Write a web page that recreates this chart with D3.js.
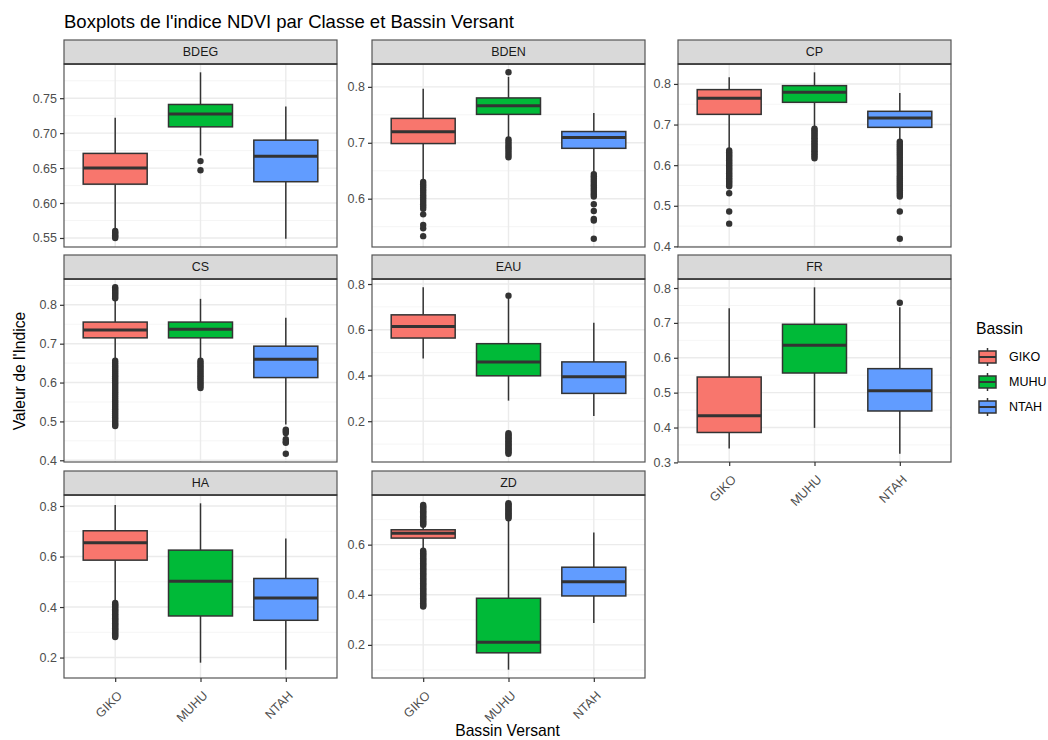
<!DOCTYPE html>
<html>
<head>
<meta charset="utf-8">
<script src="https://cdn.jsdelivr.net/npm/d3@7"></script>
<style>
  body { margin: 0; background: #fff; }
  svg { display: block; font-family: "Liberation Sans", Arial, sans-serif; }
</style>
</head>
<body>
<div id="chart"></div>
<script>
// categories
var classes = ["BDEG", "BDEN", "CP", "CS", "EAU", "FR", "HA", "ZD"];
var bassins = ["GIKO", "MUHU", "NTAH"];
var colors = ["#F8766D", "#00BA38", "#619CFF"];

// box stats per bassin: [whisker low, q1, median, q3, whisker high]
var statsBDEG = [[0.563, 0.627, 0.650, 0.671, 0.722], [0.668, 0.709, 0.7275, 0.741, 0.787], [0.549, 0.6305, 0.667, 0.690, 0.738]];
var statsBDEN = [[0.632, 0.6986, 0.7195, 0.7436, 0.7964], [0.708, 0.7508, 0.7664, 0.7802, 0.818], [0.647, 0.6901, 0.7093, 0.7201, 0.7532]];
var statsCP   = [[0.642, 0.7251, 0.7646, 0.786, 0.8163], [0.695, 0.7547, 0.7793, 0.7958, 0.8286], [0.663, 0.6931, 0.7163, 0.7326, 0.7778]];
var statsCS   = [[0.662, 0.715, 0.7352, 0.7556, 0.811], [0.662, 0.715, 0.737, 0.7556, 0.8153], [0.492, 0.6128, 0.6597, 0.6936, 0.7668]];
var statsEAU  = [[0.474, 0.5638, 0.6145, 0.6652, 0.7856], [0.290, 0.3986, 0.4594, 0.5391, 0.735], [0.223, 0.3217, 0.3942, 0.4594, 0.6304]];
var statsFR   = [[0.3396, 0.3858, 0.4338, 0.5448, 0.7422], [0.399, 0.5563, 0.6362, 0.696, 0.802], [0.325, 0.4474, 0.5052, 0.5688, 0.745]];
var statsHA   = [[0.420, 0.5857, 0.6545, 0.702, 0.804], [0.1797, 0.3647, 0.5024, 0.6254, 0.8107], [0.152, 0.3476, 0.4362, 0.5131, 0.6717]];
var statsZD   = [[0.582, 0.6262, 0.646, 0.6594, 0.6725], [0.101, 0.1683, 0.2103, 0.3861, 0.699], [0.287, 0.3953, 0.4519, 0.51, 0.6487]];

// outliers per bassin
var outBDEG = [[0.560, 0.558, 0.556, 0.554, 0.552, 0.550], [0.660, 0.647], []];
var outBDEN = [
  [0.630, 0.626, 0.622, 0.618, 0.614, 0.610, 0.606, 0.602, 0.598, 0.594, 0.590, 0.586, 0.582, 0.572, 0.553, 0.547, 0.533],
  [0.826, 0.706, 0.702, 0.698, 0.694, 0.690, 0.686, 0.682, 0.678, 0.674],
  [0.644, 0.640, 0.636, 0.632, 0.628, 0.624, 0.620, 0.616, 0.612, 0.608, 0.604, 0.590, 0.578, 0.564, 0.561, 0.5285]];
var outCP = [
  [0.636, 0.632, 0.628, 0.624, 0.620, 0.616, 0.612, 0.608, 0.604, 0.600, 0.596, 0.592, 0.588, 0.584, 0.580, 0.576, 0.572, 0.568, 0.564, 0.560, 0.556, 0.552, 0.548, 0.531, 0.486, 0.456],
  [0.690, 0.686, 0.682, 0.678, 0.674, 0.670, 0.666, 0.662, 0.658, 0.654, 0.650, 0.646, 0.642, 0.638, 0.634, 0.630, 0.626, 0.622, 0.617],
  [0.658, 0.653, 0.648, 0.643, 0.638, 0.633, 0.628, 0.623, 0.618, 0.613, 0.608, 0.603, 0.598, 0.593, 0.588, 0.583, 0.578, 0.573, 0.568, 0.563, 0.558, 0.553, 0.548, 0.543, 0.538, 0.533, 0.528, 0.523, 0.486, 0.419]];
var outCS = [
  [0.845, 0.841, 0.837, 0.833, 0.829, 0.825, 0.821, 0.817, 0.656, 0.651, 0.646, 0.641, 0.636, 0.631, 0.626, 0.621, 0.616, 0.611, 0.606, 0.601, 0.596, 0.591, 0.586, 0.581, 0.576, 0.571, 0.566, 0.561, 0.556, 0.551, 0.546, 0.541, 0.536, 0.531, 0.526, 0.521, 0.516, 0.511, 0.506, 0.501, 0.496, 0.492, 0.488],
  [0.656, 0.651, 0.646, 0.641, 0.636, 0.631, 0.626, 0.621, 0.616, 0.611, 0.606, 0.601, 0.596, 0.591, 0.586],
  [0.479, 0.475, 0.470, 0.454, 0.448, 0.445, 0.417]];
var outEAU = [[], [0.749, 0.148, 0.142, 0.136, 0.130, 0.124, 0.118, 0.112, 0.106, 0.100, 0.094, 0.088, 0.082, 0.076, 0.070, 0.064, 0.058], []];
var outFR = [[], [], [0.7576]];
var outHA = [[0.416, 0.411, 0.406, 0.401, 0.396, 0.391, 0.386, 0.381, 0.376, 0.371, 0.366, 0.361, 0.356, 0.351, 0.346, 0.341, 0.336, 0.331, 0.326, 0.321, 0.316, 0.311, 0.306, 0.301, 0.296, 0.291, 0.286, 0.2815], [], []];
var outZD = [
  [0.758, 0.753, 0.748, 0.743, 0.738, 0.733, 0.728, 0.723, 0.718, 0.713, 0.708, 0.703, 0.698, 0.693, 0.688, 0.683, 0.679,
   0.576, 0.571, 0.566, 0.561, 0.556, 0.551, 0.546, 0.541, 0.536, 0.531, 0.526, 0.521, 0.516, 0.511, 0.506, 0.501, 0.496, 0.491, 0.486, 0.481, 0.476, 0.471, 0.466, 0.461, 0.456, 0.451, 0.446, 0.441, 0.436, 0.431, 0.426, 0.421, 0.416, 0.411, 0.406, 0.401, 0.396, 0.391, 0.386, 0.381, 0.376, 0.371, 0.366, 0.361, 0.356, 0.353],
  [0.765, 0.760, 0.755, 0.750, 0.745, 0.740, 0.735, 0.730, 0.725, 0.720, 0.715, 0.710, 0.705],
  []];

// y tick values per panel
var ticksBDEG = [0.55, 0.60, 0.65, 0.70, 0.75];
var ticksBDEN = [0.6, 0.7, 0.8];
var ticksCP   = [0.4, 0.5, 0.6, 0.7, 0.8];
var ticksCS   = [0.4, 0.5, 0.6, 0.7, 0.8];
var ticksEAU  = [0.2, 0.4, 0.6, 0.8];
var ticksFR   = [0.3, 0.4, 0.5, 0.6, 0.7, 0.8];
var ticksHA   = [0.2, 0.4, 0.6, 0.8];
var ticksZD   = [0.2, 0.4, 0.6];

var panels = [
  { name: "BDEG", stats: statsBDEG, out: outBDEG, ticks: ticksBDEG, fmt: ".2f" },
  { name: "BDEN", stats: statsBDEN, out: outBDEN, ticks: ticksBDEN, fmt: ".1f" },
  { name: "CP",   stats: statsCP,   out: outCP,   ticks: ticksCP,   fmt: ".1f" },
  { name: "CS",   stats: statsCS,   out: outCS,   ticks: ticksCS,   fmt: ".1f" },
  { name: "EAU",  stats: statsEAU,  out: outEAU,  ticks: ticksEAU,  fmt: ".1f" },
  { name: "FR",   stats: statsFR,   out: outFR,   ticks: ticksFR,   fmt: ".1f" },
  { name: "HA",   stats: statsHA,   out: outHA,   ticks: ticksHA,   fmt: ".1f" },
  { name: "ZD",   stats: statsZD,   out: outZD,   ticks: ticksZD,   fmt: ".1f" }
];

var width = 1048, height = 740;
var colX = [64, 372, 678];
var rowY = [40, 255, 471];
var panelW = 273, stripH = 24, plotH = 183;

var svg = d3.select("#chart").append("svg")
  .attr("width", width)
  .attr("height", height);

// title
svg.append("text")
  .attr("x", 64).attr("y", 28)
  .attr("font-size", "18.5px").attr("fill", "#000")
  .text("Boxplots de l'indice NDVI par Classe et Bassin Versant");

var xScale = d3.scalePoint().domain(bassins).range([0, panelW]).padding(0.6);
var boxW = xScale.step() * 0.75;

panels.forEach(function(p, i) {
  var col = i % 3, row = Math.floor(i / 3);
  var left = colX[col], top = rowY[row] + stripH;
  var g = svg.append("g").attr("transform", "translate(" + left + "," + top + ")");

  // y domain from the data, expanded 5% like ggplot
  var all = [];
  p.stats.forEach(function(s) { all.push(s[0], s[4]); });
  p.out.forEach(function(o) { all = all.concat(o); });
  var ext = d3.extent(all);
  var pad = (ext[1] - ext[0]) * 0.05;
  var yScale = d3.scaleLinear().domain([ext[0] - pad, ext[1] + pad]).range([plotH, 0]);

  // minor grid positions
  var step = p.ticks[1] - p.ticks[0];
  var minor = [];
  for (var k = -1; k < p.ticks.length; k++) {
    var m = (k < 0 ? p.ticks[0] - step / 2 : p.ticks[k] + step / 2);
    if (m >= yScale.domain()[0] && m <= yScale.domain()[1]) minor.push(m);
  }

  g.append("rect").attr("width", panelW).attr("height", plotH).attr("fill", "#fff");

  g.selectAll(".minor").data(minor).enter().append("line")
    .attr("x1", 0).attr("x2", panelW)
    .attr("y1", function(d) { return yScale(d); })
    .attr("y2", function(d) { return yScale(d); })
    .attr("stroke", "#f2f2f2").attr("stroke-width", 0.8);

  g.selectAll(".major").data(p.ticks).enter().append("line")
    .attr("x1", 0).attr("x2", panelW)
    .attr("y1", function(d) { return yScale(d); })
    .attr("y2", function(d) { return yScale(d); })
    .attr("stroke", "#ebebeb").attr("stroke-width", 1.4);

  g.selectAll(".vgrid").data(bassins).enter().append("line")
    .attr("x1", function(d) { return xScale(d); })
    .attr("x2", function(d) { return xScale(d); })
    .attr("y1", 0).attr("y2", plotH)
    .attr("stroke", "#ebebeb").attr("stroke-width", 1.4);

  // boxplots
  p.stats.forEach(function(s, j) {
    var cx = xScale(bassins[j]);
    var bg = g.append("g");
    bg.selectAll("circle").data(p.out[j]).enter().append("circle")
      .attr("cx", cx)
      .attr("cy", function(d) { return yScale(d); })
      .attr("r", 3.2)
      .attr("fill", "#333");
    bg.append("line").attr("x1", cx).attr("x2", cx)
      .attr("y1", yScale(s[3])).attr("y2", yScale(s[4]))
      .attr("stroke", "#333").attr("stroke-width", 1.5);
    bg.append("line").attr("x1", cx).attr("x2", cx)
      .attr("y1", yScale(s[1])).attr("y2", yScale(s[0]))
      .attr("stroke", "#333").attr("stroke-width", 1.5);
    bg.append("rect")
      .attr("x", cx - boxW / 2).attr("width", boxW)
      .attr("y", yScale(s[3])).attr("height", yScale(s[1]) - yScale(s[3]))
      .attr("fill", colors[j]).attr("stroke", "#333").attr("stroke-width", 1.5);
    bg.append("line")
      .attr("x1", cx - boxW / 2).attr("x2", cx + boxW / 2)
      .attr("y1", yScale(s[2])).attr("y2", yScale(s[2]))
      .attr("stroke", "#333").attr("stroke-width", 3);
  });

  // panel border
  g.append("rect").attr("width", panelW).attr("height", plotH)
    .attr("fill", "none").attr("stroke", "#555").attr("stroke-width", 1.2);

  // strip
  svg.append("rect")
    .attr("x", left).attr("y", rowY[row])
    .attr("width", panelW).attr("height", stripH)
    .attr("fill", "#d9d9d9").attr("stroke", "#555").attr("stroke-width", 1.2);
  svg.append("line")
    .attr("x1", left).attr("x2", left + panelW)
    .attr("y1", top).attr("y2", top)
    .attr("stroke", "#333").attr("stroke-width", 1.6);
  svg.append("text")
    .attr("x", left + panelW / 2).attr("y", rowY[row] + stripH / 2)
    .attr("dy", "0.35em").attr("text-anchor", "middle")
    .attr("font-size", "12.5px").attr("fill", "#1a1a1a")
    .text(p.name);

  // y axis
  var yAxis = d3.axisLeft(yScale).tickValues(p.ticks).tickFormat(d3.format(p.fmt))
    .tickSize(4).tickPadding(3);
  var ya = g.append("g").call(yAxis);
  ya.select(".domain").remove();
  ya.selectAll(".tick line").attr("stroke", "#333").attr("stroke-width", 1.2);
  ya.selectAll(".tick text").attr("fill", "#4d4d4d").attr("font-size", "12.5px")
    .attr("font-family", "Liberation Sans, Arial, sans-serif");

  // x axis only on the bottom panel of each column
  var isBottom = (row === 2) || (row === 1 && col === 2);
  if (isBottom) {
    var xAxis = d3.axisBottom(xScale).tickSize(4).tickPadding(0);
    var xa = g.append("g").attr("transform", "translate(0," + plotH + ")").call(xAxis);
    xa.select(".domain").remove();
    xa.selectAll(".tick line").attr("stroke", "#333").attr("stroke-width", 1.2);
    xa.selectAll(".tick text")
      .attr("fill", "#4d4d4d").attr("font-size", "12.5px")
      .attr("font-family", "Liberation Sans, Arial, sans-serif")
      .attr("text-anchor", "end")
      .attr("y", 0).attr("dy", "0.71em")
      .attr("transform", "translate(1,12) rotate(-45)");
  }
});

// axis titles
svg.append("text")
  .attr("transform", "translate(25," + ((rowY[0] + stripH + rowY[2] + stripH + plotH) / 2) + ") rotate(-90)")
  .attr("text-anchor", "middle").attr("font-size", "15.7px").attr("fill", "#000")
  .text("Valeur de l'Indice");

svg.append("text")
  .attr("x", (colX[0] + colX[2] + panelW) / 2).attr("y", 736)
  .attr("text-anchor", "middle").attr("font-size", "15.7px").attr("fill", "#000")
  .text("Bassin Versant");

// legend
var legend = svg.append("g").attr("transform", "translate(976,0)");
legend.append("text").attr("x", 0).attr("y", 334)
  .attr("font-size", "15.7px").attr("fill", "#000").text("Bassin");
var keyY = d3.scalePoint().domain(bassins).range([357, 407]);
bassins.forEach(function(b, j) {
  var cy = keyY(b);
  var k = legend.append("g");
  k.append("line").attr("x1", 11.5).attr("x2", 11.5).attr("y1", cy - 9).attr("y2", cy + 9)
    .attr("stroke", "#333").attr("stroke-width", 1.5);
  k.append("rect").attr("x", 3).attr("width", 17).attr("y", cy - 6).attr("height", 12)
    .attr("fill", colors[j]).attr("stroke", "#333").attr("stroke-width", 1.5);
  k.append("line").attr("x1", 3).attr("x2", 20).attr("y1", cy).attr("y2", cy)
    .attr("stroke", "#333").attr("stroke-width", 2);
  k.append("text").attr("x", 33).attr("y", cy).attr("dy", "0.35em")
    .attr("font-size", "12.5px").attr("fill", "#000").text(b);
});
</script>
</body>
</html>
